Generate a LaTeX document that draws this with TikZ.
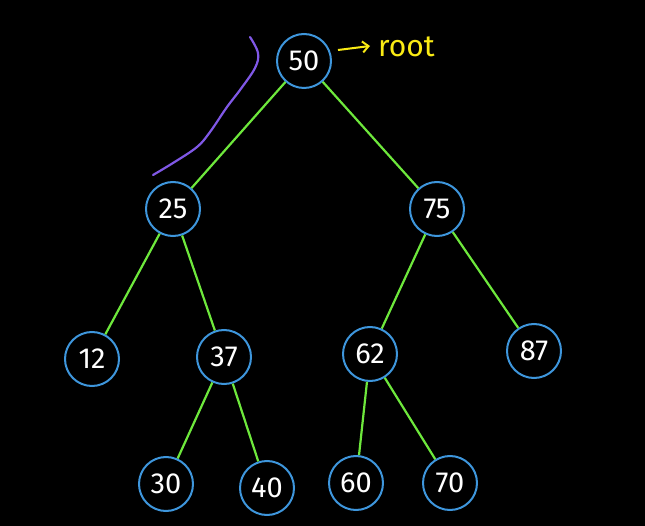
\documentclass[tikz,border=0pt]{standalone}
\usepackage{fontspec}
\setmainfont{Fira Sans}
\usetikzlibrary{arrows.meta}
\definecolor{ringblue}{RGB}{62,150,220}
\definecolor{edgegreen}{RGB}{110,232,60}
\definecolor{notepurple}{RGB}{128,88,230}
\definecolor{noteyellow}{RGB}{250,235,20}
\tikzset{
  keynode/.style={circle, draw=ringblue, line width=2pt, minimum size=54pt,
    inner sep=0pt, text=white, font=\fontsize{29}{32}\selectfont},
  treeedge/.style={draw=edgegreen, line width=2.2pt},
}
\begin{document}
\begin{tikzpicture}[x=1pt, y=-1pt]
  \fill[black] (0,0) rectangle (645,526);
  \useasboundingbox (0,0) rectangle (645,526);

  % keys of the search tree
  \node[keynode] (n50) at (304,61) {50};
  \node[keynode] (n25) at (173,209) {25};
  \node[keynode] (n75) at (437,209) {75};
  \node[keynode] (n12) at (92,359) {12};
  \node[keynode] (n37) at (224,357) {37};
  \node[keynode] (n62) at (370,354) {62};
  \node[keynode] (n87) at (534,351) {87};
  \node[keynode] (n30) at (166,484) {30};
  \node[keynode] (n40) at (267,488) {40};
  \node[keynode] (n60) at (356,483) {60};
  \node[keynode] (n70) at (450,483) {70};

  % parent-child links
  \path[treeedge] (n50) -- (n25);
  \path[treeedge] (n50) -- (n75);
  \path[treeedge] (n25) -- (n12);
  \path[treeedge] (n25) -- (n37);
  \path[treeedge] (n75) -- (n62);
  \path[treeedge] (n75) -- (n87);
  \path[treeedge] (n37) -- (n30);
  \path[treeedge] (n37) -- (n40);
  \path[treeedge] (n62) -- (n60);
  \path[treeedge] (n62) -- (n70);

  % root label
  \coordinate (rootarrowstart) at (338,50);
  \node[text=noteyellow, font=\fontsize{30}{32}\selectfont, anchor=west,
        inner sep=0pt] (rootlbl) at (378,47) {root};
  \draw[noteyellow, line width=2pt,
        -{Straight Barb[length=6pt, width=11pt]}]
    (rootarrowstart) -- ([xshift=-8pt, yshift=1pt]rootlbl.west);

  % hand-drawn bracket beside the left subtree
  \draw[notepurple, line width=2.2pt, line cap=round, line join=round]
    plot[smooth, tension=0.6] coordinates {
      (250,37) (258,53) (255,68) (240,90) (227,107) (210,132)
      (197,147) (173,163) (153,175)};
\end{tikzpicture}
\end{document}
